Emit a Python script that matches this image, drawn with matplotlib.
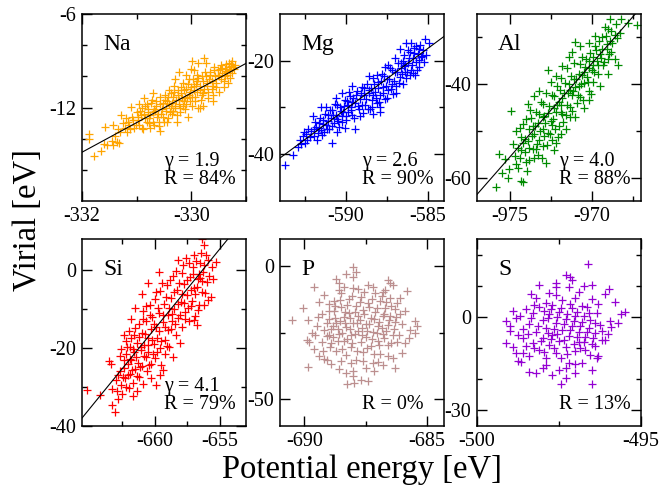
import numpy as np
import matplotlib
matplotlib.use("Agg")
import matplotlib.pyplot as plt

plt.rcParams['font.family'] = ['Liberation Serif', 'DejaVu Serif']
plt.rcParams['axes.unicode_minus'] = False

# Potential energy / virial samples for each element (eV)
na_pts = [(-331.88,-13.7),(-331.87,-14.0),(-331.78,-15.1),(-331.66,-14.8),(-331.6,-14.36),(-331.55,-14.4),
          (-331.58,-13.26),(-331.43,-13.15),(-331.46,-14.15),(-331.44,-14.4),(-331.32,-14.3),(-331.36,-14.2),
          (-331.28,-12.45),(-331.25,-13.0),(-331.22,-13.3),(-331.1,-11.95),(-331.18,-13.6),(-331.12,-13.4),
          (-331.05,-13.3),(-331.15,-12.9),(-331.08,-12.6),
          (-331.0,-12.3),(-330.98,-12.8),(-330.95,-13.1),(-330.92,-12.5),(-330.9,-12.0),(-330.88,-13.4),
          (-330.85,-12.7),(-330.82,-11.8),(-330.8,-12.3),(-330.78,-13.0),(-330.75,-12.5),(-330.72,-11.5),
          (-330.7,-12.9),(-330.68,-12.1),(-330.65,-11.9),(-330.62,-12.6),(-330.6,-13.2),(-330.58,-11.3),
          (-330.55,-12.4),(-330.52,-11.7),(-330.5,-12.9),(-330.76,-13.3),(-330.58,-13.5),
          (-330.48,-11.2),(-330.46,-12.2),(-330.44,-11.6),(-330.42,-12.7),(-330.4,-10.9),(-330.38,-11.9),
          (-330.36,-12.4),(-330.34,-11.3),(-330.32,-10.6),(-330.3,-12.0),(-330.28,-11.5),(-330.26,-12.9),
          (-330.24,-10.9),(-330.22,-11.8),(-330.2,-12.3),(-330.18,-11.1),(-330.16,-10.4),(-330.14,-11.6),
          (-330.12,-12.1),(-330.1,-10.8),(-330.08,-11.4),(-330.06,-12.6),(-330.04,-10.2),(-330.02,-11.0),
          (-329.99,-9.04),(-329.88,-9.15),(-329.76,-8.83),(-329.73,-9.15),(-329.95,-9.6),(-329.9,-9.9),
          (-329.98,-11.9),(-329.96,-10.6),(-329.94,-11.3),(-329.9,-10.3),(-329.88,-12.0),(-329.85,-10.9),
          (-329.82,-11.5),(-329.8,-10.0),(-329.78,-11.1),(-329.75,-9.7),(-329.72,-10.6),(-329.7,-11.4),
          (-329.68,-10.2),(-329.65,-9.9),(-329.62,-10.8),(-329.6,-11.2),(-329.58,-9.6),(-329.55,-10.4),
          (-329.52,-9.9),(-329.5,-11.0),(-329.79,-11.9),(-329.85,-12.0),
          (-329.48,-9.5),(-329.45,-10.2),(-329.43,-9.47),(-329.4,-10.7),(-329.37,-9.68),(-329.35,-9.9),
          (-329.33,-10.4),(-329.31,-9.15),(-329.28,-9.35),(-329.25,-9.0),(-329.25,-9.8),(-329.22,-9.5),
          (-329.3,-10.1),(-329.38,-10.0),
          (-331.02,-13.1),(-330.97,-12.6),(-330.93,-12.2),(-330.91,-13.3),(-330.87,-12.4),(-330.84,-11.9),
          (-330.81,-12.9),(-330.79,-12.1),(-330.77,-12.7),(-330.74,-11.7),(-330.71,-12.3),(-330.69,-13.1),
          (-330.66,-12.2),(-330.64,-11.6),(-330.61,-12.4),(-330.59,-12.9),(-330.57,-11.8),(-330.54,-12.1),
          (-330.51,-12.6),(-330.49,-11.5),(-330.47,-12.0),(-330.45,-12.9),(-330.43,-11.3),(-330.41,-11.8),
          (-330.39,-12.3),(-330.37,-11.1),(-330.35,-11.7),(-330.33,-12.2),(-330.31,-11.0),(-330.29,-11.9),
          (-330.27,-12.5),(-330.25,-11.2),(-330.23,-11.5),(-330.21,-12.0),(-330.19,-10.7),(-330.17,-11.4),
          (-330.15,-11.9),(-330.13,-10.9),(-330.11,-11.3),(-330.09,-11.8),(-330.07,-10.5),(-330.05,-11.2),
          (-330.03,-11.6),(-330.01,-10.7),(-329.99,-11.3),(-329.97,-10.2),(-329.95,-10.9),(-329.93,-11.6),
          (-329.91,-10.5),(-329.89,-11.0),(-329.87,-10.1),(-329.84,-10.6),(-329.81,-11.2),(-329.79,-10.3),
          (-329.77,-10.8),(-329.74,-10.0),(-329.71,-10.4),(-329.69,-11.0),(-329.66,-9.7),(-329.63,-10.3),
          (-329.61,-10.6),(-329.59,-9.4),(-329.57,-10.0),(-329.54,-10.7),(-329.51,-9.6),(-329.49,-10.0),
          (-329.46,-9.3),(-329.44,-9.8),(-329.41,-10.3),(-329.39,-9.5),(-329.36,-9.2),(-329.34,-9.7),
          (-329.32,-9.4),(-329.29,-9.6),(-329.27,-9.2),(-329.24,-9.4),(-329.2,-9.3),(-331.06,-12.8),
          (-331.14,-13.1),(-331.2,-12.7),(-331.3,-13.6),(-331.4,-13.8),(-331.35,-13.4),(-330.96,-11.8),
          (-330.86,-11.4),(-330.7,-11.1),(-330.3,-10.2),(-330.22,-9.7),(-330.1,-9.9),(-330.0,-9.5),
          (-329.6,-11.6)]

mg_pts = [(-593.68,-42.3),(-593.2,-40.1),(-592.9,-38.5),(-592.7,-37.8),(-592.5,-37.5),(-592.54,-35.2),
          (-592.35,-37.0),(-592.2,-36.3),(-592.0,-31.9),(-592.1,-35.0),(-591.9,-36.2),(-591.8,-34.2),
          (-591.7,-35.5),(-591.6,-33.4),(-591.48,-29.8),(-591.5,-34.8),(-591.4,-32.6),(-591.3,-35.3),
          (-591.2,-33.8),(-591.1,-31.7),(-591.0,-34.5),(-590.9,-32.2),(-590.83,-37.6),(-590.8,-30.6),
          (-590.7,-33.4),(-590.6,-31.5),(-590.5,-29.4),(-590.45,-32.8),(-590.4,-34.1),(-590.3,-30.8),
          (-590.2,-27.0),(-590.2,-31.9),(-590.1,-29.6),(-590.06,-34.3),(-590.0,-32.7),(-589.9,-28.6),
          (-589.85,-30.9),(-589.8,-26.7),(-589.7,-29.8),(-589.6,-31.6),(-589.55,-27.9),(-589.45,-34.6),
          (-589.4,-29.1),(-589.3,-26.4),(-589.2,-30.4),(-589.1,-28.2),(-589.0,-25.6),(-588.95,-31.2),
          (-588.9,-27.4),(-588.8,-29.4),(-588.7,-24.9),(-588.6,-27.0),(-588.5,-30.4),(-588.45,-25.8),
          (-588.4,-28.5),(-588.3,-23.7),(-588.2,-26.6),(-588.1,-29.1),(-588.0,-24.6),(-587.9,-30.0),
          (-587.9,-27.3),(-587.8,-22.8),(-587.7,-25.7),(-587.6,-28.1),(-587.5,-23.9),(-587.4,-26.2),
          (-587.3,-21.5),(-587.2,-24.9),(-587.1,-27.1),(-587.0,-22.3),(-586.9,-25.3),(-586.8,-20.4),
          (-586.7,-23.4),(-586.67,-17.4),(-586.6,-21.6),(-586.5,-25.0),(-586.45,-18.8),(-586.4,-22.5),
          (-586.3,-16.3),(-586.3,-23.6),(-586.2,-20.5),(-586.1,-18.2),(-586.0,-16.1),(-586.0,-21.9),
          (-585.9,-19.4),(-585.8,-17.2),(-585.75,-23.0),(-585.7,-20.3),(-585.6,-18.5),(-585.5,-21.4),
          (-585.45,-16.6),(-585.4,-19.3),(-585.3,-17.8),(-585.18,-15.4),(-585.1,-18.7),(-584.9,-16.1),
          (-585.9,-22.6),(-586.5,-20.0),(-587.0,-19.5),(-587.4,-21.0),
          (-592.8,-36.9),(-592.6,-36.0),(-592.4,-35.6),(-592.3,-34.6),(-591.95,-34.7),(-591.85,-33.1),
          (-591.75,-36.9),(-591.65,-34.3),(-591.55,-32.2),(-591.45,-35.9),(-591.35,-33.6),(-591.25,-31.4),
          (-591.15,-34.7),(-591.05,-32.9),(-590.95,-30.5),(-590.85,-33.9),(-590.75,-31.6),(-590.65,-29.2),
          (-590.55,-32.5),(-590.5,-35.2),(-590.35,-29.9),(-590.25,-33.2),(-590.15,-31.0),(-590.05,-28.4),
          (-589.95,-31.8),(-589.88,-29.5),(-589.75,-27.6),(-589.65,-30.6),(-589.58,-28.8),(-589.5,-32.3),
          (-589.35,-27.3),(-589.25,-29.6),(-589.15,-31.9),(-589.05,-27.0),(-588.98,-29.5),(-588.85,-25.9),
          (-588.75,-28.1),(-588.65,-30.3),(-588.55,-26.2),(-588.42,-29.9),(-588.35,-27.3),(-588.25,-24.9),
          (-588.15,-27.9),(-588.05,-25.8),(-587.95,-28.8),(-587.85,-24.4),(-587.75,-26.8),(-587.65,-23.2),
          (-587.55,-25.4),(-587.45,-27.9),(-587.35,-23.8),(-587.25,-26.0),(-587.15,-21.9),(-587.05,-24.3),
          (-586.95,-26.8),(-586.85,-22.4),(-586.75,-24.8),(-586.65,-20.5),(-586.55,-22.9),(-586.35,-20.9),
          (-586.25,-22.4),(-586.15,-19.5),(-586.05,-23.0),(-585.95,-20.9),(-585.85,-18.3),(-585.65,-21.9),
          (-585.55,-19.8),(-585.35,-18.9),(-585.25,-20.2),(-585.7,-16.9),(-586.2,-17.6),(-585.5,-17.4),
          (-586.45,-21.2),(-588.6,-23.3),(-588.1,-23.0),(-589.6,-25.4),(-590.6,-28.0),(-591.2,-29.9),
          (-587.6,-21.3),(-587.9,-31.0),(-588.3,-31.4)]

al_pts = [(-975.84,-62.1),(-975.64,-54.9),(-975.1,-60.1),(-975.04,-58.1),(-974.6,-57.0),(-974.3,-60.7),
          (-974.2,-60.9),(-974.8,-52.8),(-974.9,-45.7),(-974.6,-50.1),(-974.5,-53.6),(-974.4,-55.8),
          (-974.3,-51.3),(-974.2,-48.6),(-974.1,-54.5),(-974.0,-56.6),(-973.9,-44.3),(-973.9,-52.2),
          (-973.8,-56.3),(-973.8,-49.5),(-973.7,-47.2),(-973.6,-53.8),(-973.5,-50.7),(-973.4,-45.9),
          (-973.3,-55.1),(-973.3,-48.3),(-973.2,-51.9),(-973.1,-43.8),(-973.0,-49.7),(-973.0,-53.3),
          (-972.9,-46.8),(-972.8,-56.8),(-972.8,-41.9),(-972.7,-37.0),(-972.7,-50.4),(-972.6,-44.7),
          (-972.5,-47.9),(-972.4,-52.0),(-972.3,-42.6),(-972.2,-52.5),(-972.2,-45.9),(-972.1,-40.3),
          (-972.0,-48.9),(-972.0,-43.9),
          (-971.9,-38.7),(-971.8,-46.4),(-971.7,-41.8),(-971.6,-49.6),(-971.5,-36.5),(-971.5,-44.4),
          (-971.4,-39.9),(-971.3,-47.1),(-971.2,-45.8),(-971.2,-42.3),(-971.1,-35.4),(-971.0,-30.9),
          (-971.0,-40.6),(-970.9,-44.0),(-970.8,-37.9),(-970.7,-42.7),(-970.6,-34.2),(-970.5,-39.8),
          (-970.4,-36.4),(-970.3,-38.5),(-970.2,-41.4),(-970.1,-33.3),(-970.0,-36.9),(-969.9,-39.5),
          (-969.8,-31.8),(-969.7,-35.0),(-969.6,-37.8),(-969.5,-33.5),(-969.4,-30.0),(-969.3,-36.0),
          (-969.2,-27.7),(-969.1,-32.4),(-969.0,-34.6),(-968.9,-30.8),(-968.8,-33.1),(-968.6,-34.7),
          (-968.6,-29.4),(-968.5,-27.1),(-968.3,-29.1),(-968.2,-26.1),(-967.8,-26.9),(-967.27,-27.4),
          (-974.7,-55.3),(-974.5,-58.0),(-974.4,-49.4),(-974.3,-54.0),(-974.1,-51.8),(-974.0,-47.4),
          (-973.95,-58.5),(-973.85,-53.7),(-973.75,-45.6),(-973.65,-51.1),(-973.55,-55.7),(-973.45,-48.9),
          (-973.35,-52.8),(-973.25,-46.3),(-973.15,-50.0),(-973.05,-55.9),(-972.95,-44.2),(-972.85,-48.4),
          (-972.75,-53.0),(-972.65,-46.1),(-972.55,-50.6),(-972.45,-42.3),(-972.35,-47.4),(-972.25,-49.5),
          (-972.15,-44.5),(-972.05,-51.4),(-971.95,-41.3),(-971.85,-44.4),(-971.75,-48.2),(-971.65,-39.8),
          (-971.55,-46.7),(-971.45,-42.0),(-971.35,-44.9),(-971.25,-38.3),(-971.15,-41.4),(-971.05,-47.0),
          (-970.95,-39.0),(-970.85,-42.3),(-970.75,-35.8),(-970.65,-40.0),(-970.55,-43.5),(-970.45,-37.4),
          (-970.35,-34.7),(-970.25,-39.6),(-970.15,-36.5),(-970.05,-42.1),(-969.95,-34.3),(-969.85,-37.4),
          (-969.75,-32.8),(-969.65,-35.9),(-969.55,-30.8),(-969.45,-34.5),(-969.35,-32.5),(-969.25,-35.2),
          (-969.15,-29.8),(-969.05,-31.4),(-968.95,-33.5),(-968.85,-28.6),(-968.75,-31.2),(-968.45,-30.2),
          (-974.2,-52.5),(-973.6,-49.0),(-973.0,-47.0),(-972.3,-45.0),(-971.8,-43.0),(-971.1,-39.0),
          (-970.6,-38.0),(-969.9,-36.0),(-972.9,-51.2),(-972.4,-48.8),(-971.9,-46.0),(-971.3,-41.2),
          (-970.8,-40.5),(-970.2,-35.1),(-973.4,-53.8),(-975.3,-56.0),(-975.5,-59.0),
          (-973.5,-42.5),(-973.2,-41.5),(-972.5,-39.5),(-972.2,-38.3),(-971.8,-36.2),(-971.4,-34.1),
          (-971.2,-33.2),(-970.7,-31.8),(-970.2,-31.3),(-969.8,-29.6),(-969.0,-28.2),(-968.9,-26.0),
          (-970.2,-43.5),(-970.5,-45.2),(-969.5,-40.3),(-969.0,-37.8),(-968.4,-36.0),(-971.9,-50.6),
          (-972.3,-54.0)]

si_pts = [(-665.2,-30.8),(-664.2,-32.1),(-663.5,-23.4),(-663.4,-24.2),(-663.3,-34.7),(-663.1,-36.4),
          (-663.3,-30.5),(-662.9,-31.1),(-663.0,-28.3),(-662.8,-26.9),(-662.6,-29.5),(-662.7,-22.1),
          (-662.5,-31.8),(-662.4,-25.2),(-662.3,-27.8),(-662.2,-18.3),(-662.2,-21.4),(-662.1,-24.0),
          (-662.0,-30.2),(-661.9,-19.6),(-661.9,-26.6),(-661.8,-23.0),(-661.7,-28.9),(-661.6,-16.7),
          (-661.6,-21.0),(-661.5,-25.3),(-661.4,-31.0),(-661.4,-18.8),(-661.3,-23.9),(-661.2,-13.9),
          (-661.2,-27.4),(-661.1,-20.4),(-661.0,-6.0),(-661.0,-16.1),(-661.0,-24.7),(-660.9,-10.5),
          (-660.9,-29.2),(-660.8,-19.3),(-660.7,-22.2),(-660.7,-13.0),(-660.6,-26.0),(-660.5,-3.4),
          (-660.5,-17.4),(-660.5,-20.9),(-660.4,-9.0),(-660.3,-24.2),(-660.3,-15.2),(-660.2,-12.0),
          (-660.1,-19.0),(-660.0,-22.6),(-660.0,-7.4),(-659.9,-29.6),(-659.9,-14.5),(-659.8,-17.3),
          (-659.7,-0.4),(-659.7,-11.1),(-659.6,-20.1),(-659.6,-5.3),(-659.5,-24.3),(-659.4,-13.4),
          (-659.35,-25.5),(-659.3,-8.6),(-659.2,-17.8),(-659.2,-21.6),(-659.1,-3.9),(-659.0,-11.6),
          (-659.0,-15.4),(-658.9,-19.6),(-658.8,-7.2),(-658.7,-13.0),(-658.6,-1.6),(-658.6,-22.4),
          (-658.5,-9.9),(-658.4,-16.6),(-658.3,-5.1),(-658.2,2.6),(-658.2,-12.3),(-658.1,-18.6),
          (-658.0,-8.2),(-657.9,-0.8),(-657.9,-14.5),(-657.8,-3.6),(-657.7,-10.8),(-657.6,3.0),
          (-657.5,-6.3),(-657.4,-13.1),(-657.3,-1.8),(-657.2,-9.2),(-657.1,0.9),(-657.0,3.8),
          (-657.0,-4.7),(-656.9,-11.7),(-656.8,-14.0),(-656.7,-2.3),(-656.6,-8.9),(-656.5,1.8),
          (-656.4,8.1),(-656.4,-5.6),(-656.3,-0.4),(-656.2,6.4),(-656.1,4.0),(-656.0,-3.1),
          (-655.9,-7.6),(-655.7,-6.8),(-655.6,0.7),(-655.3,2.1),(-656.6,-0.9),
          (-662.7,-25.8),(-662.6,-20.2),(-662.45,-27.4),(-662.35,-23.0),(-662.25,-29.9),(-662.15,-19.6),
          (-662.05,-26.9),(-661.95,-22.8),(-661.85,-17.5),(-661.75,-25.5),(-661.65,-20.2),(-661.55,-14.9),
          (-661.45,-22.4),(-661.35,-27.1),(-661.25,-17.2),(-661.15,-24.8),(-661.05,-19.6),(-660.95,-12.5),
          (-660.85,-22.1),(-660.75,-16.4),(-660.65,-9.3),(-660.55,-19.1),(-660.45,-24.4),(-660.35,-11.6),
          (-660.25,-17.9),(-660.15,-21.4),(-660.05,-13.8),(-659.95,-5.5),(-659.85,-20.9),(-659.75,-9.6),
          (-659.65,-15.6),(-659.55,-18.3),(-659.45,-3.4),(-659.35,-11.4),(-659.25,-14.5),(-659.15,-6.9),
          (-659.05,-19.5),(-658.95,-9.8),(-658.85,-2.5),(-658.75,-15.1),(-658.65,-11.2),(-658.55,-5.7),
          (-658.45,-13.9),(-658.35,-0.3),(-658.25,-8.6),(-658.15,-3.2),(-658.05,-11.4),(-657.95,-6.2),
          (-657.85,1.4),(-657.75,-8.3),(-657.65,-12.6),(-657.55,-2.4),(-657.45,-9.8),(-657.35,1.9),
          (-657.25,-5.1),(-657.15,-7.8),(-657.05,-1.0),(-656.95,-6.1),(-656.85,2.3),(-656.75,-4.3),
          (-656.65,-10.3),(-656.55,-1.9),(-656.45,4.5),(-656.35,-2.9),(-656.25,1.2),(-656.15,-5.8),
          (-655.95,2.6),(-655.85,-1.6),(-655.5,-2.2),(-661.8,-12.5),(-661.5,-9.8),(-662.0,-15.5),
          (-662.4,-16.7),(-661.7,-32.2),(-662.8,-33.0),(-660.3,-27.8),(-659.6,-27.0),(-657.0,-12.9),
          (-656.2,-9.0)]

p_pts = [(-690.51,-20.5),(-690.04,-15.9),(-689.84,-37.8),(-689.84,-20.25),(-689.9,-27.8),(-689.8,-28.4),
         (-689.6,-8.1),(-689.7,-25.0),(-689.6,-31.2),(-689.5,-22.5),(-689.4,-33.7),(-689.3,-17.9),
         (-689.2,-11.1),(-689.2,-34.8),(-689.1,-35.2),(-689.1,-26.3),(-689.0,-14.3),(-688.7,-5.0),
         (-688.6,-6.3),(-688.3,-3.2),(-688.0,-4.1),(-688.0,-0.6),(-687.9,-2.5),(-686.6,-5.3),
         (-686.5,-6.5),(-686.4,-7.1),(-685.8,-9.6),(-685.5,-20.8),(-685.4,-22.6),(-685.5,-25.0),
         (-685.75,-27.2),(-685.9,-29.1),(-686.3,-38.4),(-687.15,-39.25),(-688.25,-44.4),(-687.96,-43.8),
         (-687.7,-42.9),(-687.4,-43.2),(-688.0,-41.3),(-688.6,-38.6),(-688.9,-36.8),(-686.0,-32.5),
         (-686.2,-14.0),(-686.1,-18.2),(-688.3,-40.0),(-688.0,-39.5),
         (-689.0,-19.8),(-688.9,-23.6),(-688.9,-28.9),(-688.8,-13.2),(-688.8,-17.1),(-688.7,-21.4),
         (-688.7,-31.8),(-688.6,-25.7),(-688.5,-10.1),(-688.5,-15.6),(-688.4,-19.2),(-688.4,-28.0),
         (-688.3,-33.5),(-688.3,-23.0),(-688.2,-12.4),(-688.2,-17.6),(-688.1,-26.1),(-688.1,-30.6),
         (-688.0,-21.3),(-688.0,-8.4),(-687.9,-14.9),(-687.9,-35.4),(-687.8,-19.0),(-687.8,-24.3),
         (-687.7,-28.6),(-687.7,-11.6),(-687.6,-32.3),(-687.6,-16.6),(-687.5,-21.9),(-687.5,-26.8),
         (-687.4,-7.4),(-687.4,-13.9),(-687.3,-30.0),(-687.3,-19.6),(-687.2,-24.8),(-687.2,-36.4),
         (-687.1,-10.2),(-687.1,-17.2),(-687.0,-22.7),(-687.0,-28.0),(-686.9,-13.3),(-686.9,-33.0),
         (-686.8,-19.0),(-686.8,-25.6),(-686.7,-9.0),(-686.7,-15.8),(-686.6,-22.1),(-686.6,-29.7),
         (-686.5,-12.0),(-686.5,-18.9),(-686.4,-26.0),(-686.4,-34.4),(-686.3,-16.2),(-686.3,-21.0),
         (-686.2,-28.4),(-686.8,-37.0),(-687.5,-38.3),(-689.2,-24.0),(-689.4,-13.4),(-688.6,-9.0),
         (-689.1,-21.5),(-689.0,-25.8),(-689.0,-17.0),(-688.95,-30.5),(-688.85,-22.4),(-688.85,-26.7),
         (-688.75,-15.1),(-688.75,-19.6),(-688.65,-23.6),(-688.65,-28.2),(-688.55,-12.8),(-688.55,-20.7),
         (-688.45,-25.0),(-688.45,-31.0),(-688.35,-17.4),(-688.35,-21.6),(-688.25,-14.6),(-688.25,-27.3),
         (-688.15,-19.7),(-688.15,-23.8),(-688.05,-29.0),(-688.05,-11.2),(-687.95,-17.5),(-687.95,-25.7),
         (-687.85,-21.6),(-687.85,-32.0),(-687.75,-13.6),(-687.75,-20.2),(-687.65,-26.0),(-687.65,-23.2),
         (-687.55,-10.0),(-687.55,-18.0),(-687.45,-24.3),(-687.45,-30.9),(-687.35,-15.5),(-687.35,-21.7),
         (-687.25,-27.5),(-687.25,-12.4),(-687.15,-19.8),(-687.15,-33.1),(-687.05,-25.1),(-687.05,-16.0),
         (-686.95,-21.1),(-686.95,-29.6),(-686.85,-11.3),(-686.85,-23.4),(-686.75,-18.0),(-686.75,-27.2),
         (-686.65,-13.7),(-686.65,-24.6),(-686.55,-20.3),(-686.45,-15.0),(-686.45,-29.1),(-686.35,-23.7),
         (-686.25,-19.2),(-686.15,-25.8),(-686.1,-12.1),(-686.0,-22.0),(-685.9,-17.0),(-685.7,-24.0),
         (-689.3,-28.5),(-689.45,-19.3),(-689.55,-26.1),(-689.25,-31.8),(-688.5,-35.5),(-688.1,-36.5),
         (-687.6,-35.7),(-687.0,-36.2),(-686.6,-33.8),(-688.4,-7.8),(-687.8,-8.6),(-687.2,-8.0),
         (-686.8,-9.9)]

s_pts = [(-496.61,17.0),(-497.3,13.4),(-497.15,12.7),(-497.1,12.0),(-498.1,10.2),(-498.35,7.2),
         (-497.8,7.7),(-496.5,10.4),(-496.75,9.8),(-495.99,8.8),(-496.1,7.5),(-495.8,4.8),
         (-495.6,0.9),(-495.48,1.6),(-495.95,-1.2),(-495.9,-3.3),(-496.1,-7.3),(-496.3,-12.7),
         (-496.35,-13.3),(-496.5,-17.0),(-496.5,-21.5),(-497.45,-21.5),(-497.3,-19.5),(-497.7,-18.7),
         (-498.2,-17.9),(-498.4,-17.8),(-498.74,-14.3),(-498.66,-14.6),(-498.4,-12.6),(-499.13,-1.4),
         (-499.13,-8.4),(-499.0,-4.6),(-498.8,-0.3),(-498.7,0.4),(-498.6,-6.8),(-498.9,-9.5),
         (-498.6,-11.5),(-499.0,-3.0),(-498.5,2.5),(-498.2,6.0),(-497.9,4.6),(-496.8,-14.8),
         (-497.0,-18.0),(-496.3,4.0),(-496.2,-4.5),(-496.4,-9.2),(-497.6,9.5),(-496.9,8.0),
         (-498.4,-2.3),(-498.3,-8.3),(-498.3,1.3),(-498.2,-4.8),(-498.1,-10.6),(-498.1,3.2),
         (-498.0,-1.0),(-498.0,-6.9),(-497.9,-13.1),(-497.9,-3.4),(-497.8,0.8),(-497.8,-9.0),
         (-497.7,-5.7),(-497.7,3.9),(-497.6,-1.9),(-497.6,-11.7),(-497.5,-7.6),(-497.5,1.6),
         (-497.4,-4.2),(-497.4,5.4),(-497.3,-0.6),(-497.3,-9.6),(-497.2,-14.9),(-497.2,-6.2),
         (-497.1,2.9),(-497.1,-2.8),(-497.0,-11.0),(-497.0,0.3),(-496.9,-4.9),(-496.9,-8.1),
         (-496.8,3.6),(-496.8,-1.5),(-496.7,-6.6),(-496.7,-10.5),(-496.6,1.1),(-496.6,-3.7),
         (-496.5,-8.6),(-496.5,5.6),(-496.4,-2.0),(-496.4,-5.0),(-497.6,7.0),(-497.3,-16.4),
         (-497.9,-15.5),(-498.5,-9.4),(-497.0,6.2),(-498.6,-3.8),
         (-498.45,-5.6),(-498.35,-0.4),(-498.25,-10.0),(-498.25,3.9),(-498.15,-2.9),(-498.05,-7.8),
         (-497.95,1.9),(-497.95,-11.4),(-497.85,-5.2),(-497.85,-0.2),(-497.75,-7.2),(-497.75,2.5),
         (-497.65,-3.8),(-497.65,-9.9),(-497.55,0.0),(-497.55,-5.6),(-497.45,-13.2),(-497.45,3.0),
         (-497.35,-2.4),(-497.35,-7.3),(-497.25,0.8),(-497.25,-11.8),(-497.15,-4.3),(-497.15,4.3),
         (-497.05,-8.7),(-497.05,-1.4),(-496.95,1.7),(-496.95,-6.4),(-496.85,-10.1),(-496.85,-2.9),
         (-496.75,0.2),(-496.75,-8.0),(-496.65,-4.8),(-496.65,3.3),(-496.55,-1.0),(-496.55,-12.1),
         (-496.45,-6.8),(-496.35,1.3),(-496.25,-2.7),(-496.2,-7.4),(-497.5,-17.0),(-497.0,-15.0),
         (-498.0,-16.3),(-497.6,11.0),(-497.2,9.5),(-498.75,-5.8),(-498.8,-11.5),(-496.0,-5.5),
         (-495.7,-1.8),(-498.9,2.0)]

elements = ["Na", "Mg", "Al", "Si", "P", "S"]
samples = [na_pts, mg_pts, al_pts, si_pts, p_pts, s_pts]
colors = ["orange", "blue", "#008b00", "red", "#bc8f8f", "#9400d3"]
gammas = [1.9, 2.6, 4.0, 4.1, None, None]
r_values = [84, 90, 88, 79, 0, 13]
# point the fitted line passes through (slope = gamma)
line_anchor = [(-332, -14.87), (-589, -27.8), (-977, -63.6), (-660, -15.0), None, None]

xlims = [(-332, -329), (-594, -584), (-977, -967), (-665.6, -653), (-691, -684.3), (-500, -495)]
ylims = [(-18, -6), (-50, -10), (-65, -25), (-40, 8), (-60, 10), (-35, 25)]
x_major = [[-332, -330], [-590, -585], [-975, -970], [-660, -655], [-690, -685], [-500, -495]]
x_minor = [[-331, -329], [-592.5, -587.5], [-972.5, -967.5], [-662.5, -657.5], [-687.5], [-497.5]]
y_major = [[-12, -6], [-40, -20], [-60, -40], [-40, -20, 0], [-50, 0], [-30, 0]]
y_minor = [[-16, -14, -10, -8], [-30], [-50, -30], [-30, -10], [-25], [-20, -10, 10, 20]]

# axes boxes in pixels: left, top
W, H = 663, 496
lefts = [82, 280, 477]
tops = [14, 239]
box_w, box_h = 164, 187

fig = plt.figure(figsize=(W / 100, H / 100), dpi=100)

for i, name in enumerate(elements):
    row, col = divmod(i, 3)
    l = lefts[col]
    t = tops[row]
    ax = fig.add_axes([l / W, 1 - (t + box_h) / H, box_w / W, box_h / H])

    pts = np.array(samples[i])
    ax.plot(pts[:, 0], pts[:, 1], '+', color=colors[i], ms=5.5, mew=0.9)

    if gammas[i] is not None:
        x0, y0 = line_anchor[i]
        xs = np.array(xlims[i])
        ax.plot(xs, y0 + gammas[i] * (xs - x0), color='k', lw=0.8)
        ax.text(0.5, 0.187, "γ = %.1f" % gammas[i], transform=ax.transAxes, fontsize=14.5)
    ax.text(0.5, 0.091, "R = %d%%" % r_values[i], transform=ax.transAxes, fontsize=14.5)
    ax.text(0.128, 0.807, name, transform=ax.transAxes, fontsize=17)

    ax.set_xlim(xlims[i])
    ax.set_ylim(ylims[i])
    ax.set_xticks(x_major[i])
    ax.set_xticks(x_minor[i], minor=True)
    ax.set_yticks(y_major[i])
    ax.set_yticks(y_minor[i], minor=True)
    ax.set_xticklabels([str(v) for v in x_major[i]])
    ax.set_yticklabels([str(v) for v in y_major[i]])
    ax.tick_params(which='both', direction='in', top=True, right=True, width=1.0, labelsize=14.5, pad=4)
    ax.tick_params(which='major', length=7)
    ax.tick_params(which='minor', length=3.5)
    for sp in ax.spines.values():
        sp.set_linewidth(1.1)

fig.text(28 / W, 1 - 220 / H, "Virial [eV]", rotation=90, ha='center', va='center', fontsize=23.5)
fig.text(362 / W, 1 - 470 / H, "Potential energy [eV]", ha='center', va='center', fontsize=23.5)

fig.savefig("out.png", dpi=100)
